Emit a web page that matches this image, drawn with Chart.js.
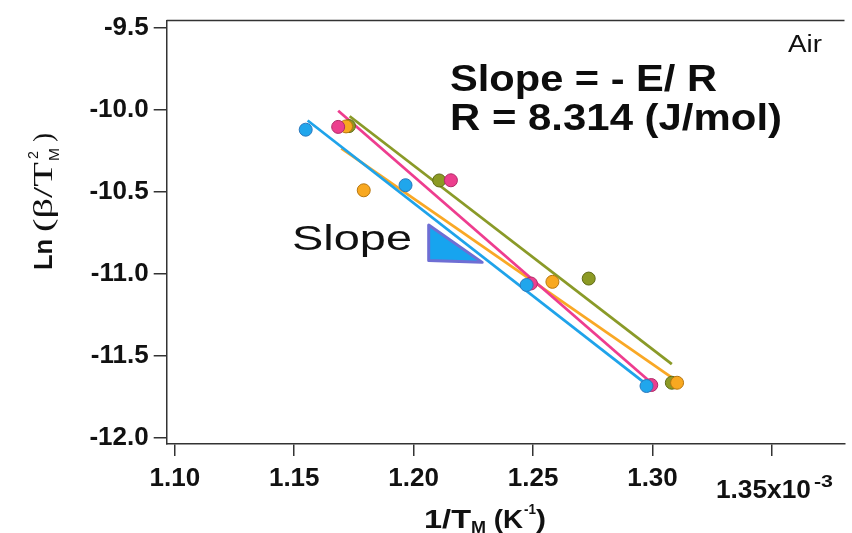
<!DOCTYPE html>
<html>
<head>
<meta charset="utf-8">
<script src="https://cdn.jsdelivr.net/npm/chart.js@4.4.1/dist/chart.umd.min.js"></script>
<style>
html,body{margin:0;padding:0;background:#ffffff;overflow:hidden;}
#wrap{width:852px;height:533px;position:relative;}
</style>
</head>
<body>
<div id="wrap"><canvas id="c" width="852" height="533"></canvas></div>
<script>
// ---- data (x in units of 1e-3 K^-1) ----
const cyanX   = [1.1548, 1.1966, 1.2473, 1.2975];
const cyanY   = [-10.120, -10.459, -11.068, -11.685];
const pinkX   = [1.1684, 1.2156, 1.2491, 1.2995];
const pinkY   = [-10.103, -10.429, -11.059, -11.679];
const oliveX  = [1.1729, 1.2107, 1.2733, 1.3081];
const oliveY  = [-10.098, -10.430, -11.029, -11.665];
const orangeX = [1.1717, 1.1791, 1.2581, 1.3103];
const orangeY = [-10.100, -10.490, -11.049, -11.665];

// fitted lines: start / end values
const fitCyanX   = [1.1556, 1.2975];
const fitCyanY   = [-10.064, -11.675];
const fitPinkX   = [1.1684, 1.2995];
const fitPinkY   = [-10.004, -11.665];
const fitOliveX  = [1.1732, 1.3081];
const fitOliveY  = [-10.038, -11.551];
const fitOrangeX = [1.1697, 1.3092];
const fitOrangeY = [-10.234, -11.645];

// slope marker triangle
const triangleX = [1.2063, 1.2063, 1.2287, 1.2063];
const triangleY = [-10.702, -10.918, -10.930, -10.702];

const xTicks = [1.10, 1.15, 1.20, 1.25, 1.30, 1.35];
const yTicks = [-9.5, -10.0, -10.5, -11.0, -11.5, -12.0];
const xTickLabels = ['1.10', '1.15', '1.20', '1.25', '1.30', '1.35x10'];
const xTickExponent = '-3';
const yTickLabels = ['-9.5', '-10.0', '-10.5', '-11.0', '-11.5', '-12.0'];

const annotSlopeEq = 'Slope = - E/ R';
const annotR = 'R = 8.314 (J/mol)';
const annotAir = 'Air';
const annotSlope = 'Slope';

function pts(xs, ys) { return xs.map((x, i) => ({ x: x, y: ys[i] })); }

const SANS = '"Liberation Sans", Arial, sans-serif';
const SERIF = '"Liberation Serif", "Times New Roman", serif';
const AXIS_COLOR = '#333333';

function stretchText(ctx, text, x, y, font, width, color, align) {
  ctx.save();
  ctx.font = font;
  ctx.fillStyle = color || '#111';
  ctx.textBaseline = 'alphabetic';
  ctx.textAlign = 'left';
  const m = ctx.measureText(text).width;
  const sx = width ? width / m : 1;
  let x0 = x;
  if (align === 'center') x0 = x - (m * sx) / 2;
  ctx.translate(x0, y);
  ctx.scale(sx, 1);
  ctx.fillText(text, 0, 0);
  ctx.restore();
  return m * sx;
}

const decor = {
  id: 'decor',
  afterDraw(chart) {
    const ctx = chart.ctx;
    const a = chart.chartArea;
    // top frame line
    ctx.save();
    ctx.strokeStyle = AXIS_COLOR;
    ctx.lineWidth = 1.5;
    ctx.beginPath();
    ctx.moveTo(a.left, a.top);
    ctx.lineTo(a.right, a.top);
    ctx.stroke();
    ctx.restore();

    // last x tick label with exponent
    const xs = chart.scales.x;
    const px = xs.getPixelForValue(xTicks[xTicks.length - 1]);
    const w1 = stretchText(ctx, xTickLabels[xTickLabels.length - 1], px - 56, 498, 'bold 26px ' + SANS, 95, '#111');
    stretchText(ctx, xTickExponent, px - 56 + w1 + 3, 487, 'bold 16px ' + SANS, 19, '#111');

    // annotations
    stretchText(ctx, annotSlopeEq, 450, 91, 'bold 36px ' + SANS, 267, '#0d0d0d');
    stretchText(ctx, annotR, 450, 129.5, 'bold 36px ' + SANS, 332, '#0d0d0d');
    stretchText(ctx, annotAir, 788, 51.5, '23px ' + SANS, 34, '#111');
    stretchText(ctx, annotSlope, 292, 250, '35px ' + SANS, 120, '#111');

    // x axis title: 1/T_M (K^-1)
    let x = 424;
    const base = 528;
    x += stretchText(ctx, '1/T', x, base, 'bold 26px ' + SANS, 47, '#111');
    x += stretchText(ctx, 'M', x, base + 5, 'bold 16px ' + SANS, 15, '#111');
    x += stretchText(ctx, ' (K', x, base, 'bold 26px ' + SANS, 37, '#111');
    x += stretchText(ctx, '-1', x + 1, base - 14, 'bold 15px ' + SANS, 12, '#111') + 1;
    stretchText(ctx, ')', x, base, 'bold 26px ' + SANS, 10, '#111');

    // y axis title (rotated): Ln (β/T_M^2)
    ctx.save();
    ctx.translate(52, 270);
    ctx.rotate(-Math.PI / 2);
    let t = 0;
    t += stretchText(ctx, 'Ln ', t, 0, 'bold 26px ' + SANS, 38, '#111');
    t += stretchText(ctx, '(\u03B2/T', t, 0, '27px ' + SERIF, 70, '#111');
    const tm = t;
    stretchText(ctx, 'M', t + 1, 7, '15px ' + SANS, 13, '#111');
    stretchText(ctx, '2', t + 3, -14, '15px ' + SANS, 8, '#111');
    stretchText(ctx, ')', tm + 20, 0, '27px ' + SERIF, 9, '#111');
    ctx.restore();
  }
};

const ds = [
  { type: 'scatter', label: 'cyan', data: pts(cyanX, cyanY), backgroundColor: '#20a6ec', borderColor: '#2a78bd', borderWidth: 1, pointRadius: 6.5 },
  { type: 'scatter', label: 'pink', data: pts(pinkX, pinkY), backgroundColor: '#ec3f8e', borderColor: '#b02a68', borderWidth: 1, pointRadius: 6.5 },
  { type: 'scatter', label: 'orange', data: pts(orangeX, orangeY), backgroundColor: '#f8a820', borderColor: '#b7760f', borderWidth: 1, pointRadius: 6.5 },
  { type: 'scatter', label: 'olive', data: pts(oliveX, oliveY), backgroundColor: '#8c9a24', borderColor: '#5f6a16', borderWidth: 1, pointRadius: 6.5 },
  { type: 'line', label: 'fit cyan', data: pts(fitCyanX, fitCyanY), borderColor: '#1fa3ea', borderWidth: 2.8, pointRadius: 0, fill: false },
  { type: 'line', label: 'fit pink', data: pts(fitPinkX, fitPinkY), borderColor: '#ee3d8f', borderWidth: 2.8, pointRadius: 0, fill: false },
  { type: 'line', label: 'fit orange', data: pts(fitOrangeX, fitOrangeY), borderColor: '#f9a825', borderWidth: 2.8, pointRadius: 0, fill: false },
  { type: 'line', label: 'fit olive', data: pts(fitOliveX, fitOliveY), borderColor: '#8a9a28', borderWidth: 2.8, pointRadius: 0, fill: false },
  { type: 'line', label: 'slope marker', data: pts(triangleX, triangleY), borderColor: '#6e6ed4', backgroundColor: '#17a4ef', borderWidth: 3, borderJoinStyle: 'round', pointRadius: 0, fill: 'shape', tension: 0 }
];

new Chart(document.getElementById('c'), {
  type: 'scatter',
  data: { datasets: ds },
  options: {
    responsive: false,
    animation: false,
    devicePixelRatio: 1,
    layout: { padding: { top: 13, right: 0, left: 0, bottom: 0 } },
    plugins: { legend: { display: false }, tooltip: { enabled: false }, title: { display: false } },
    scales: {
      x: {
        type: 'linear',
        position: 'bottom',
        min: 1.0966,
        max: 1.3804,
        afterBuildTicks: s => { s.ticks = xTicks.map(v => ({ value: v })); },
        afterFit: s => { s.height = 89; },
        ticks: {
          autoSkip: false,
          maxRotation: 0,
          padding: 7,
          color: '#111',
          font: { family: SANS, weight: 'bold', size: 26 },
          callback: (v, i) => (i === xTicks.length - 1 ? '' : xTickLabels[i])
        },
        grid: { display: true, drawOnChartArea: false, drawTicks: true, tickLength: 12, color: AXIS_COLOR, lineWidth: 1.5 },
        border: { display: true, color: AXIS_COLOR, width: 1.5 }
      },
      y: {
        type: 'linear',
        position: 'left',
        min: -12.039,
        max: -9.454,
        afterBuildTicks: s => { s.ticks = yTicks.map(v => ({ value: v })); },
        afterFit: s => { s.width = 166.7; },
        ticks: {
          padding: 5,
          color: '#111',
          font: { family: SANS, weight: 'bold', size: 26 },
          callback: (v, i) => yTickLabels[i]
        },
        grid: { display: true, drawOnChartArea: false, drawTicks: true, tickLength: 13, color: AXIS_COLOR, lineWidth: 1.5 },
        border: { display: true, color: AXIS_COLOR, width: 1.5 }
      }
    }
  },
  plugins: [decor]
});
</script>
</body>
</html>
